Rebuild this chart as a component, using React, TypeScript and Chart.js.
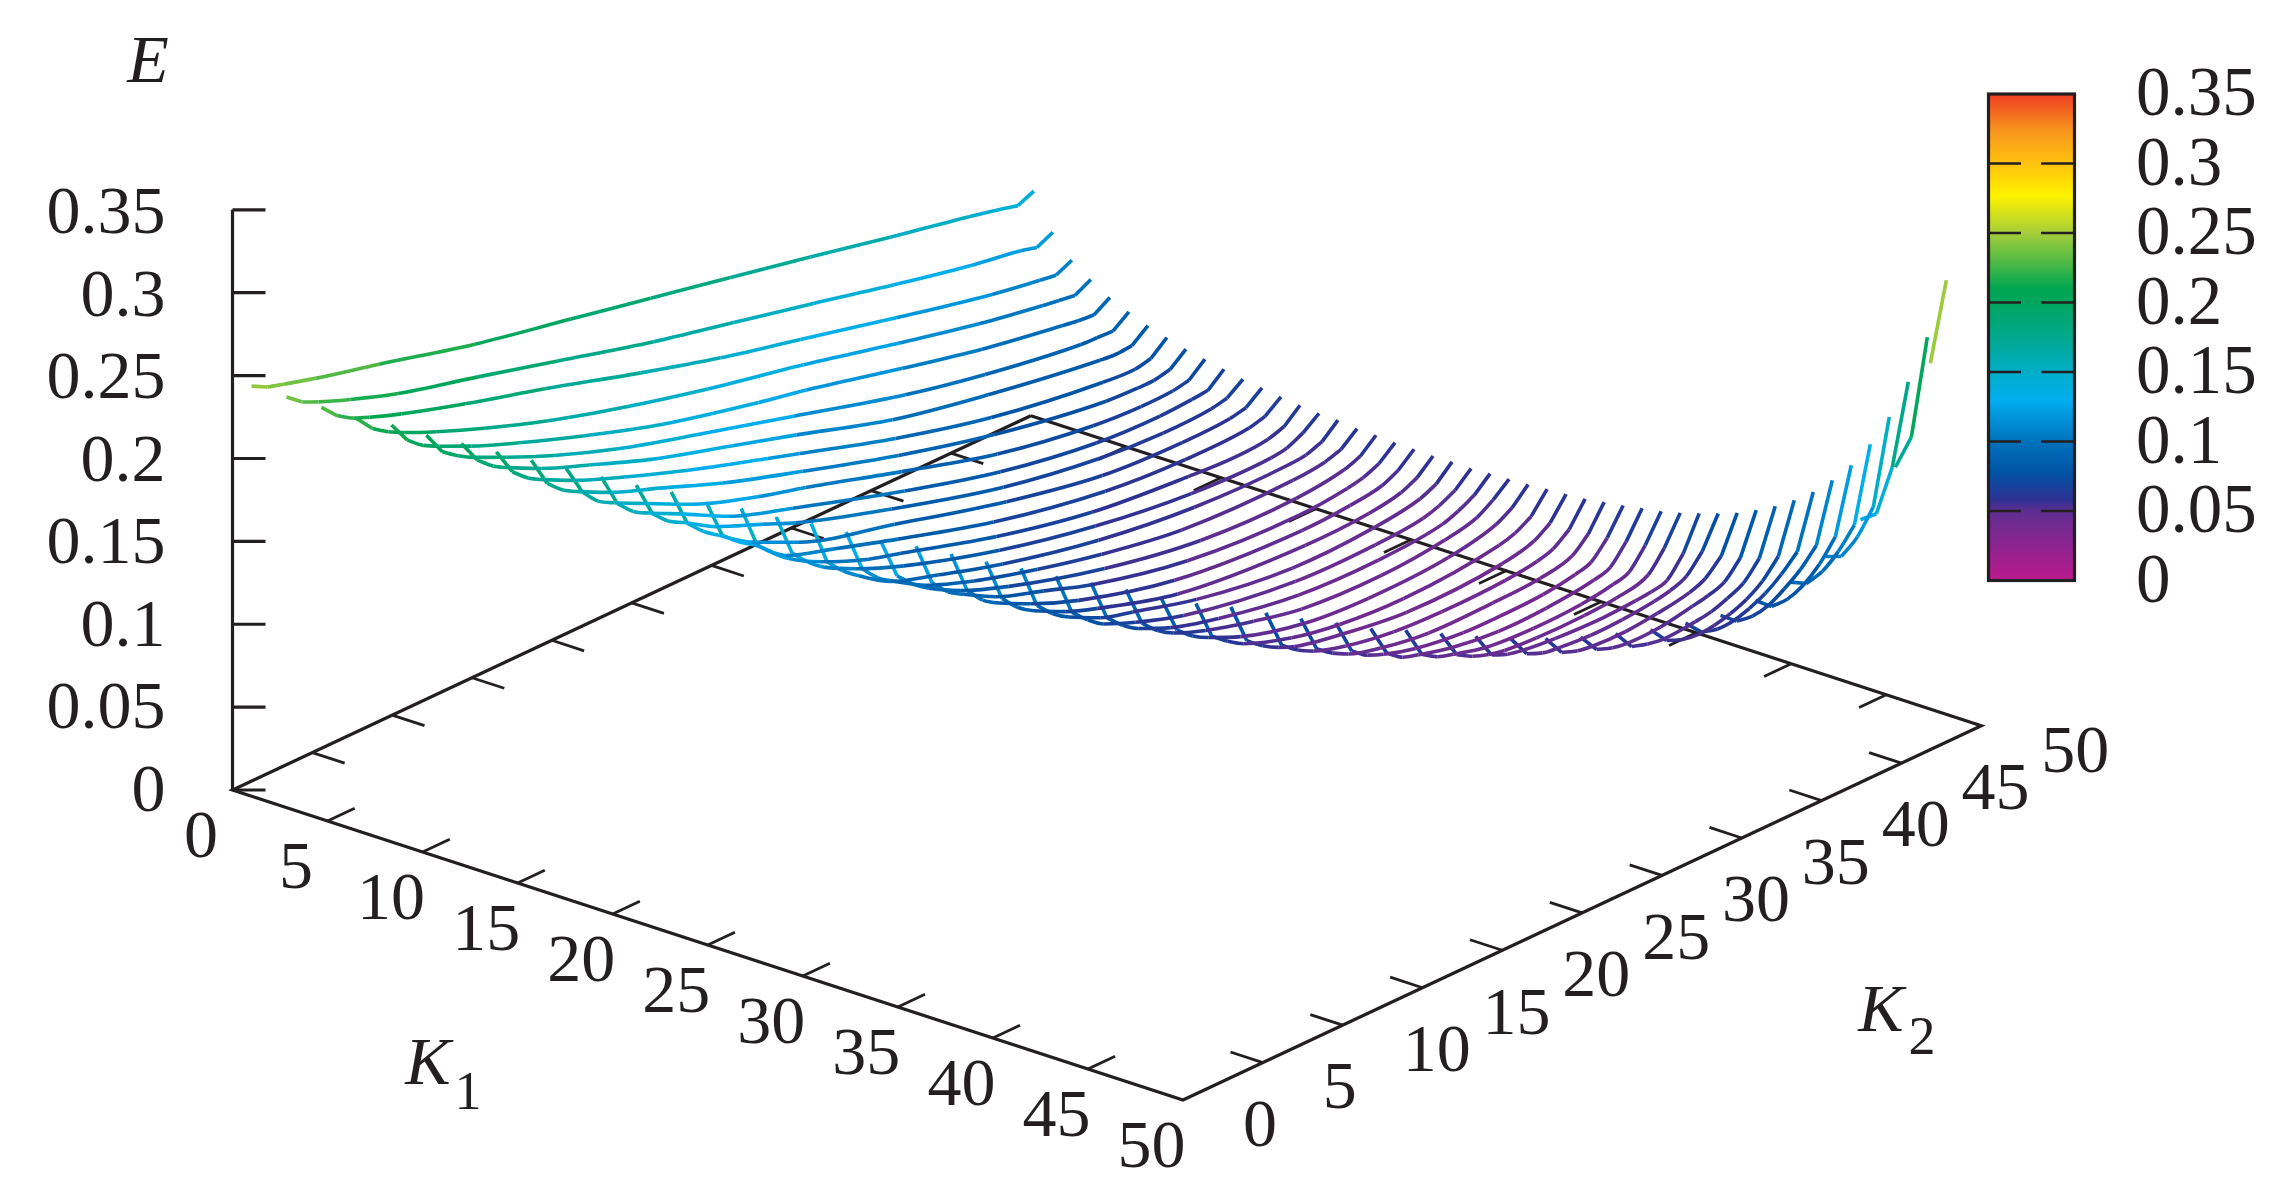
import React, { useEffect, useRef } from "react";
import { Chart, registerables } from "chart.js";

Chart.register(...registerables);

type Pair = [number, number];

// Each list is one K1 line of the surface: [K2, E].
const K1_01: Pair[] = [[0,.2474],[1,.2423],[2,.2395],[4,.234],[8,.2245],[14,.2095],[20,.1975],[25,.1875],[30,.1775],[35,.1672],[40,.1565],[45,.1465],[47,.142],[48,.1395],[49,.1437]];
const K1_02: Pair[] = [[1,.24],[2,.2325],[3,.2281],[5,.2205],[8,.2105],[13,.198],[18,.185],[24,.1695],[29,.1585],[34,.1475],[39,.136],[44,.1255],[47,.1205],[48,.118],[49,.1227]];
const K1_03: Pair[] = [[2,.233],[3,.2234],[4,.2175],[5,.2135],[7,.2065],[11,.1945],[16,.181],[22,.1635],[27,.15],[32,.1385],[38,.1245],[44,.1115],[47,.1065],[48,.105],[49,.1095]];
const K1_04: Pair[] = [[3,.2256],[4,.215],[5,.2085],[6,.2035],[8,.195],[11,.1835],[15,.17],[20,.156],[25,.144],[31,.1315],[37,.1175],[42,.1065],[46,.0995],[47,.098],[48,.0965],[49,.1016]];
const K1_05: Pair[] = [[4,.2208],[5,.2072],[6,.1995],[7,.1945],[9,.1855],[12,.174],[16,.16],[21,.1445],[27,.1305],[30,.1245],[36,.1105],[41,.0995],[46,.091],[47,.0895],[48,.0885],[49,.0945]];
const K1_06: Pair[] = [[5,.2139],[6,.1994],[7,.1925],[8,.187],[10,.178],[13,.1655],[17,.1515],[22,.1375],[28,.1215],[35,.1028],[40,.0925],[46,.0835],[47,.083],[48,.0825],[49,.0896]];
const K1_07: Pair[] = [[6,.2081],[7,.1936],[8,.1855],[9,.18],[11,.1705],[14,.159],[18,.1445],[23,.13],[27,.1185],[33,.1005],[39,.0885],[46,.0777],[47,.0768],[48,.0775],[49,.0851]];
const K1_08: Pair[] = [[7,.2023],[8,.1858],[9,.1775],[10,.172],[12,.1625],[15,.151],[19,.137],[24,.1215],[26,.1155],[32,.0975],[38,.083],[45,.0727],[47,.0715],[48,.0735],[49,.0816]];
const K1_09: Pair[] = [[8,.1965],[9,.178],[10,.1695],[11,.164],[13,.1545],[16,.1435],[20,.1285],[25,.113],[31,.0955],[37,.081],[44,.0695],[46,.0685],[47,.0685],[48,.0705],[49,.0783]];
const K1_10: Pair[] = [[9,.1907],[10,.1721],[11,.162],[12,.1565],[14,.147],[17,.133],[21,.1195],[24,.1115],[30,.094],[36,.0775],[42,.0675],[45,.0655],[47,.066],[48,.0678],[49,.076]];
const K1_11: Pair[] = [[10,.1849],[11,.1644],[12,.155],[13,.1495],[15,.14],[18,.125],[22,.1118],[29,.0905],[35,.075],[41,.0653],[45,.0635],[47,.0645],[48,.0655],[49,.0737]];
const K1_12: Pair[] = [[11,.1791],[12,.1575],[13,.1485],[14,.143],[16,.1315],[19,.1195],[21,.1112],[27,.0925],[34,.074],[40,.0642],[44,.0615],[47,.0625],[48,.0645],[49,.0714]];
const K1_13: Pair[] = [[12,.1743],[13,.1509],[14,.1415],[15,.1345],[17,.1215],[20,.1078],[26,.0915],[33,.0735],[39,.0622],[44,.0595],[47,.0605],[48,.0625],[49,.0699]];
const K1_14: Pair[] = [[13,.1674],[14,.1429],[15,.1345],[16,.128],[18,.1125],[21,.103],[25,.0908],[31,.074],[38,.061],[43,.0575],[47,.0585],[48,.061],[49,.0682]];
const K1_15: Pair[] = [[14,.1627],[15,.1361],[16,.1268],[17,.119],[19,.108],[22,.096],[24,.0905],[30,.0735],[36,.0612],[42,.0555],[45,.054],[47,.0555],[48,.0585],[49,.0669]];
const K1_16: Pair[] = [[15,.1568],[16,.1305],[17,.1205],[18,.113],[20,.103],[23,.0912],[29,.0735],[35,.061],[41,.0535],[46,.0525],[47,.054],[48,.0585],[49,.0657]];
const K1_17: Pair[] = [[16,.1521],[17,.1245],[18,.1145],[19,.107],[21,.0945],[24,.085],[28,.0735],[34,.0607],[40,.0535],[46,.0525],[47,.0535],[48,.057],[49,.0654]];
const K1_18: Pair[] = [[17,.1462],[18,.1195],[19,.1095],[20,.103],[22,.0915],[25,.0805],[29,.0695],[33,.0605],[38,.0525],[45,.051],[47,.053],[48,.056],[49,.0641]];
const K1_19: Pair[] = [[18,.1395],[19,.1145],[20,.105],[21,.098],[23,.0875],[26,.0765],[32,.0602],[38,.05],[44,.0483],[47,.052],[48,.0555],[49,.0638]];
const K1_20: Pair[] = [[19,.1361],[20,.1095],[21,.0995],[22,.0935],[24,.083],[27,.073],[30,.0632],[36,.0505],[43,.0464],[46,.049],[47,.051],[48,.055],[49,.0631]];
const K1_21: Pair[] = [[20,.1306],[21,.1043],[22,.0937],[23,.0875],[25,.078],[28,.0665],[34,.0515],[42,.0455],[45,.047],[47,.05],[48,.0545],[49,.0628]];
const K1_22: Pair[] = [[21,.1251],[22,.0985],[23,.0885],[24,.082],[26,.0725],[28,.0654],[33,.0515],[41,.0447],[45,.046],[47,.0495],[48,.054],[49,.0625]];
const K1_23: Pair[] = [[22,.1203],[23,.0935],[24,.084],[25,.0775],[27,.068],[29,.0625],[33,.052],[39,.0438],[44,.045],[47,.0495],[48,.0538],[49,.0627]];
const K1_24: Pair[] = [[23,.1149],[24,.0885],[25,.0795],[26,.0725],[28,.0645],[31,.055],[38,.044],[43,.0435],[46,.046],[47,.049],[48,.0538],[49,.0624]];
const K1_25: Pair[] = [[24,.1101],[25,.0845],[26,.0755],[27,.069],[29,.0605],[32,.0525],[37,.044],[42,.0425],[46,.046],[47,.0495],[48,.0545],[49,.0631]];
const K1_26: Pair[] = [[25,.1053],[26,.0805],[27,.0715],[28,.0655],[30,.058],[33,.05],[36,.0438],[41,.0415],[45,.045],[47,.0495],[48,.0555],[49,.0635]];
const K1_27: Pair[] = [[26,.0997],[27,.0755],[28,.0675],[29,.062],[31,.0535],[35,.0435],[39,.0405],[44,.0425],[47,.049],[48,.0545],[49,.064]];
const K1_28: Pair[] = [[27,.0953],[28,.071],[29,.0635],[30,.0575],[33,.0475],[36,.042],[40,.0395],[46,.0447],[47,.0475],[48,.053],[49,.0649]];
const K1_29: Pair[] = [[28,.0925],[29,.0675],[30,.06],[31,.0545],[32,.0505],[35,.0445],[39,.0395],[45,.0418],[47,.0465],[48,.0528],[49,.0656]];
const K1_30: Pair[] = [[29,.0881],[30,.064],[31,.0567],[32,.0515],[34,.0455],[37,.0405],[40,.039],[44,.04],[46,.0425],[47,.0455],[48,.0526],[49,.0665]];
const K1_31: Pair[] = [[30,.0839],[31,.061],[32,.054],[33,.049],[35,.0435],[38,.039],[42,.039],[45,.0405],[47,.045],[48,.0535],[49,.0683]];
const K1_32: Pair[] = [[31,.0805],[32,.059],[33,.052],[34,.048],[36,.0425],[39,.0385],[41,.0381],[44,.039],[46,.042],[47,.045],[48,.055],[49,.07]];
const K1_33: Pair[] = [[32,.0763],[33,.057],[34,.05],[35,.047],[37,.042],[40,.0385],[43,.039],[46,.0425],[47,.0455],[48,.0565],[49,.0721]];
const K1_34: Pair[] = [[33,.0745],[34,.0555],[35,.0495],[36,.0465],[38,.0415],[41,.0395],[44,.0405],[46,.0435],[47,.0465],[48,.058],[49,.0741]];
const K1_35: Pair[] = [[34,.0717],[35,.0545],[36,.049],[37,.0455],[38,.0435],[40,.042],[43,.042],[45,.0435],[47,.0485],[48,.06],[49,.0768]];
const K1_36: Pair[] = [[35,.0693],[36,.0535],[37,.0495],[38,.0475],[40,.0455],[43,.0445],[45,.0455],[46,.0465],[47,.049],[48,.0605],[49,.0802]];
const K1_37: Pair[] = [[36,.0671],[37,.0535],[38,.0495],[39,.048],[41,.0465],[43,.047],[45,.049],[46,.051],[47,.055],[48,.0655],[49,.0839]];
const K1_38: Pair[] = [[37,.0663],[38,.0535],[39,.05],[40,.0485],[42,.048],[44,.05],[46,.0535],[47,.0575],[48,.0665],[49,.088]];
const K1_39: Pair[] = [[38,.0665],[39,.0545],[40,.051],[41,.0495],[43,.05],[45,.0535],[46,.0555],[47,.059],[48,.069],[49,.0934]];
const K1_40: Pair[] = [[39,.0678],[40,.0555],[41,.0525],[42,.051],[44,.0525],[45,.054],[46,.0575],[47,.0621],[48,.0725],[49,.0995]];
const K1_41: Pair[] = [[40,.0694],[41,.0584],[42,.0545],[43,.053],[44,.054],[45,.0565],[46,.0605],[47,.067],[48,.0775],[49,.1069]];
const K1_42: Pair[] = [[41,.0726],[42,.0627],[43,.06],[44,.0605],[45,.0635],[46,.068],[47,.075],[48,.084],[49,.1156]];
const K1_43: Pair[] = [[42,.0765],[43,.0685],[44,.067],[45,.069],[46,.0745],[47,.0815],[48,.0915],[49,.1264]];
const K1_44: Pair[] = [[43,.0847],[44,.0766],[45,.0765],[46,.0805],[47,.0885],[48,.1005],[49,.1392]];
const K1_45: Pair[] = [[44,.095],[45,.0897],[46,.0925],[47,.1],[48,.1113],[49,.1556]];
const K1_46: Pair[] = [[45,.1097],[46,.1052],[47,.1125],[48,.1261],[49,.1758]];
const K1_47: Pair[] = [[46,.1311],[47,.1302],[48,.1539],[49,.2007]];
const K1_48: Pair[] = [[47,.162],[48,.1756],[49,.2314]];
const K1_49: Pair[] = [[48,.224],[49,.2695]];

const K1_LINES = [K1_01,K1_02,K1_03,K1_04,K1_05,K1_06,K1_07,K1_08,K1_09,K1_10,K1_11,K1_12,K1_13,K1_14,K1_15,K1_16,K1_17,K1_18,K1_19,K1_20,K1_21,K1_22,K1_23,K1_24,K1_25,K1_26,K1_27,K1_28,K1_29,K1_30,K1_31,K1_32,K1_33,K1_34,K1_35,K1_36,K1_37,K1_38,K1_39,K1_40,K1_41,K1_42,K1_43,K1_44,K1_45,K1_46,K1_47,K1_48,K1_49];

const BASE_TICKS = [5, 10, 15, 20, 25, 30, 35, 40, 45];
const BASE_LABELS = [0, 5, 10, 15, 20, 25, 30, 35, 40, 45, 50];
const E_TICKS = [0, 0.05, 0.1, 0.15, 0.2, 0.25, 0.3, 0.35];
const E_LABELS = ["0", "0.05", "0.1", "0.15", "0.2", "0.25", "0.3", "0.35"];

const PALETTE_E = [0, 0.05, 0.058, 0.078, 0.1, 0.13, 0.15, 0.168, 0.2, 0.21, 0.25, 0.277, 0.3, 0.324, 0.35];
const PALETTE_HEX = ["#BC1A8D", "#5E2E91", "#2E3192", "#0054A6", "#0072BC", "#00AEEF", "#00AEC8", "#00A99D", "#00A65D", "#00A651", "#A6CE39", "#FFF200", "#FFC20E", "#F7941D", "#EF3E23"];

const INK = "#231F20";
const SERIF = '"Liberation Serif", serif';
const W = 2291;
const H = 1204;

// Oblique projection of the 3D box on the drawing plane.
const project = (k1: number, k2: number, e = 0) => ({
  x: 232.5 + 19.01 * k1 + 15.966 * k2,
  y: 790 + 6.2 * k1 - 7.486 * k2 - 1657.6 * e,
});

const hexRgb = (h: string) => [1, 3, 5].map((i) => parseInt(h.slice(i, i + 2), 16));
const colorOf = (e: number) => {
  let i = 0;
  while (i < PALETTE_E.length - 2 && e > PALETTE_E[i + 1]) i++;
  const t = Math.min(1, Math.max(0, (e - PALETTE_E[i]) / (PALETTE_E[i + 1] - PALETTE_E[i])));
  const a = hexRgb(PALETTE_HEX[i]);
  const b = hexRgb(PALETTE_HEX[i + 1]);
  return `rgb(${a.map((v, j) => Math.round(v + (b[j] - v) * t)).join(",")})`;
};

const inkLine = (data: { x: number; y: number }[], width = 3.2) => ({
  type: "line" as const,
  data,
  borderColor: INK,
  borderWidth: width,
  pointRadius: 0,
  tension: 0,
  order: 100,
  parsing: false as const,
});

const surfaceLine = (k1: number, part: Pair[], curved: boolean) => ({
  type: "line" as const,
  data: part.map(([k2, e]) => project(k1, k2, e)),
  borderColor: colorOf(part[0][1]),
  borderWidth: 3.6,
  pointRadius: 0,
  tension: 0,
  cubicInterpolationMode: curved ? ("monotone" as const) : ("default" as const),
  order: 10,
  parsing: false as const,
  segment: {
    borderColor: (c: any) => colorOf((part[c.p0DataIndex][1] + part[c.p1DataIndex][1]) / 2),
  },
});

const buildDatasets = () => {
  const sets: any[] = [];
  sets.push(inkLine([project(0, 50), project(0, 0), project(50, 0), project(50, 50), project(0, 50)]));
  BASE_TICKS.forEach((t) => {
    sets.push(inkLine([project(t, 0), project(t, 1.7)], 2.8));
    sets.push(inkLine([project(t, 50), project(t, 48.3)], 2.8));
    sets.push(inkLine([project(0, t), project(1.7, t)], 2.8));
    sets.push(inkLine([project(50, t), project(48.3, t)], 2.8));
  });
  sets.push(inkLine([project(0, 0, 0), project(0, 0, 0.35)]));
  E_TICKS.forEach((e) => {
    const p = project(0, 0, e);
    sets.push(inkLine([p, { x: p.x + 33, y: p.y }], 3.2));
  });
  K1_LINES.forEach((row, i) => {
    const k1 = i + 1;
    // the first and last steps are sharp kinks; the long middle reads as a smooth curve
    if (row.length < 5) {
      sets.push(surfaceLine(k1, row, false));
      return;
    }
    sets.push(surfaceLine(k1, row.slice(0, 2), false));
    sets.push(surfaceLine(k1, row.slice(1, -1), true));
    sets.push(surfaceLine(k1, row.slice(-2), false));
  });
  return sets;
};

const overlay = {
  id: "overlay",
  afterDraw(chart: any) {
    const { ctx, scales } = chart;
    const X = (v: number) => scales.x.getPixelForValue(v);
    const Y = (v: number) => scales.y.getPixelForValue(v);
    const barY = (e: number) => Y(580.5 - (e / 0.35) * 486.5);
    ctx.save();
    // colour box
    const top = barY(0.35);
    const bottom = barY(0);
    const g = ctx.createLinearGradient(0, bottom, 0, top);
    PALETTE_E.forEach((e, i) => g.addColorStop(e / 0.35, PALETTE_HEX[i]));
    ctx.fillStyle = g;
    ctx.fillRect(X(1988.5), top, X(2074.5) - X(1988.5), bottom - top);
    ctx.strokeStyle = INK;
    ctx.lineWidth = 3.2;
    ctx.strokeRect(X(1988.5), top, X(2074.5) - X(1988.5), bottom - top);
    ctx.lineWidth = 2.6;
    E_TICKS.slice(1, -1).forEach((e) => {
      ctx.beginPath();
      ctx.moveTo(X(1990), barY(e));
      ctx.lineTo(X(2021), barY(e));
      ctx.moveTo(X(2041), barY(e));
      ctx.lineTo(X(2073), barY(e));
      ctx.stroke();
    });
    // tick labels
    ctx.fillStyle = INK;
    ctx.textBaseline = "middle";
    ctx.font = `69px ${SERIF}`;
    ctx.textAlign = "left";
    E_TICKS.forEach((e, i) => ctx.fillText(E_LABELS[i], X(2136), barY(e) + 3));
    ctx.font = `68px ${SERIF}`;
    ctx.textAlign = "right";
    E_TICKS.forEach((e, i) => {
      const p = project(0, 0, e);
      ctx.fillText(E_LABELS[i], X(p.x - 67), Y(p.y + 3 + e * 8));
    });
    ctx.textAlign = "center";
    BASE_LABELS.forEach((t) => {
      const a = project(t, 0);
      ctx.fillText(String(t), X(a.x - 31.5), Y(a.y + 49));
    });
    ctx.textAlign = "left";
    BASE_LABELS.forEach((t) => {
      const b = project(50, t);
      ctx.fillText(String(t), X(b.x + 60), Y(b.y + 28));
    });
    ctx.textAlign = "center";
    // axis titles
    ctx.font = `italic 68px ${SERIF}`;
    ctx.fillText("E", X(148), Y(64));
    ctx.fillText("K", X(428), Y(1066));
    ctx.fillText("K", X(1881), Y(1013));
    ctx.font = `54px ${SERIF}`;
    ctx.fillText("1", X(468), Y(1095));
    ctx.fillText("2", X(1922), Y(1040));
    ctx.restore();
  },
};

export default function App() {
  const ref = useRef<HTMLCanvasElement>(null);
  useEffect(() => {
    if (!ref.current) return;
    const chart = new Chart(ref.current, {
      type: "line",
      data: { datasets: buildDatasets() },
      options: {
        animation: false,
        responsive: false,
        devicePixelRatio: 1,
        layout: { padding: 0 },
        plugins: { legend: { display: false }, tooltip: { enabled: false } },
        scales: {
          x: { type: "linear", min: 0, max: W, display: false },
          y: { type: "linear", min: 0, max: H, reverse: true, display: false },
        },
      },
      plugins: [overlay],
    } as any);
    return () => chart.destroy();
  }, []);
  return (
    <div style={{ position: "fixed", left: 0, top: 0, width: W, height: H, background: "#fff" }}>
      <canvas ref={ref} width={W} height={H} style={{ display: "block" }} />
    </div>
  );
}
